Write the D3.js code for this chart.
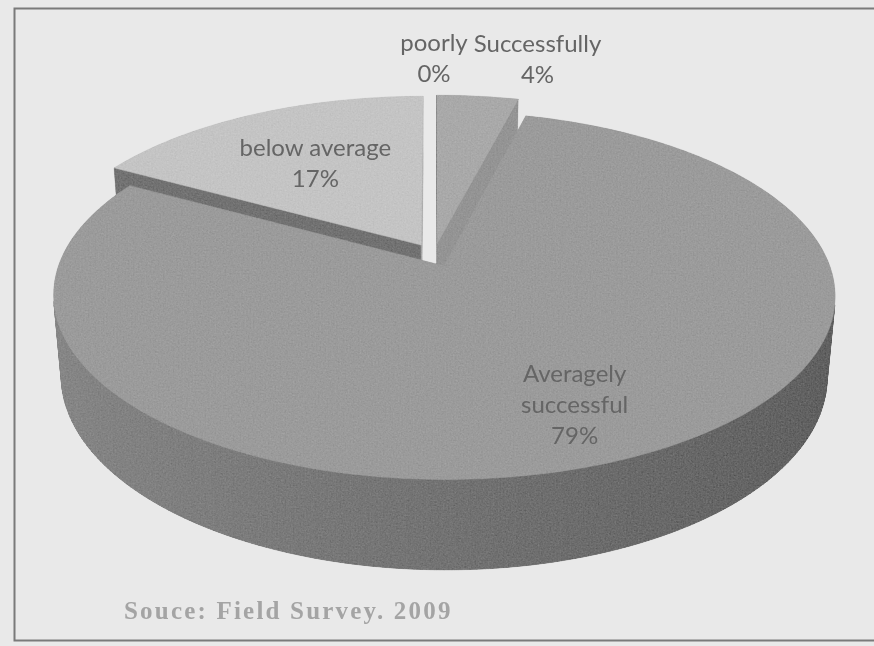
<!DOCTYPE html>
<html>
<head>
<meta charset="utf-8">
<script src="https://cdnjs.cloudflare.com/ajax/libs/d3/7.8.5/d3.min.js"></script>
<style>
  html, body { margin: 0; padding: 0; background: #e9e9e9; }
  svg { display: block; }
</style>
</head>
<body>
<script>
// ---------------- data ----------------
const categories = ["poorly", "Successfully", "Averagely successful", "below average"];
const values = [0, 4, 79, 17];
const sourceNote = "Souce: Field Survey. 2009";

// ---------------- styles ----------------
const topColors = ["#b0b0b0", "#a9a9a9", "#9b9b9b", "#c4c4c4"];
const labelColor = "#656565";
const W = 874, H = 646;

const svg = d3.select("body").append("svg").attr("width", W).attr("height", H);

// scanned-paper grain filter
const defs = svg.append("defs");
const f = defs.append("filter").attr("id", "grain")
  .attr("filterUnits", "userSpaceOnUse").attr("x", 0).attr("y", 0).attr("width", W).attr("height", H);
f.append("feTurbulence").attr("type", "fractalNoise").attr("baseFrequency", 0.6).attr("numOctaves", 2).attr("seed", 3).attr("result", "noise");
f.append("feColorMatrix").attr("in", "noise").attr("type", "matrix")
  .attr("values", "0.33 0.33 0.33 0 0  0.33 0.33 0.33 0 0  0.33 0.33 0.33 0 0  0 0 0 0 1").attr("result", "gray");
f.append("feComposite").attr("in", "SourceGraphic").attr("in2", "gray").attr("operator", "arithmetic")
  .attr("k1", 0).attr("k2", 1).attr("k3", 0.2).attr("k4", -0.1).attr("result", "mix");
f.append("feComposite").attr("in", "mix").attr("in2", "SourceGraphic").attr("operator", "in").attr("result", "clip");
f.append("feGaussianBlur").attr("in", "clip").attr("stdDeviation", 0.7);

const soft = defs.append("filter").attr("id", "soft");
soft.append("feGaussianBlur").attr("stdDeviation", 0.5);

// frame
svg.append("rect").attr("x", 14.5).attr("y", 8.5).attr("width", W).attr("height", 632)
  .attr("fill", "none").attr("stroke", "#7a7a7a").attr("stroke-width", 2).attr("filter", "url(#soft)");

// ---------------- 3D pie geometry ----------------
const view = { cx: 434, cy: 255, scale: 382, sinT: 0.46, dist: 5.55, thick: 0.24, explode: 0.066 };
view.cosT = Math.sqrt(1 - view.sinT * view.sinT);
const F = view.scale * view.dist;
const rScale = d3.scaleLinear().domain([0, 1]).range([0, 1]); // unit pie radius

function project(u, v, h) {
  const down = v * view.sinT + h * view.cosT;
  const depth = view.dist - v * view.cosT + h * view.sinT;
  return [view.cx + F * u / depth, view.cy + F * down / depth];
}
const cam = { v: view.dist * view.cosT };

const pie = d3.pie().sort(null).value(d => d.value).startAngle(0).endAngle(2 * Math.PI);
const data = categories.map((c, i) => ({ name: c, value: values[i], i }));
const arcs = pie(data);
const total = d3.sum(values);
const pct = d3.format(".0%");

arcs.forEach(a => {
  a.mid = (a.startAngle + a.endAngle) / 2;
  a.ou = Math.sin(a.mid) * view.explode;
  a.ov = -Math.cos(a.mid) * view.explode;
});

const line = d3.line();
const pieG = svg.append("g").attr("filter", "url(#grain)");

function shade(hex, k) {
  const c = d3.rgb(hex);
  return d3.rgb(c.r * k, c.g * k, c.b * k).formatHex();
}

const drawOrder = arcs.filter(a => a.value > 0).slice()
  .sort((a, b) => (a.ov - Math.cos(a.mid) * 0.5) - (b.ov - Math.cos(b.mid) * 0.5));

drawOrder.forEach(a => {
  const g = pieG.append("g");
  const R = rScale(1);
  const rim = (t, h) => project(a.ou + R * Math.sin(t), a.ov - R * Math.cos(t), h);
  const apex = h => project(a.ou, a.ov, h);
  const n = Math.max(2, Math.ceil((a.endAngle - a.startAngle) / (Math.PI / 180)));
  const ts = d3.range(n + 1).map(k => a.startAngle + (a.endAngle - a.startAngle) * k / n);
  const base = topColors[a.data.i];

  // radial faces
  const faces = [
    { t: a.startAngle, nu: -Math.cos(a.startAngle), nv: -Math.sin(a.startAngle) },
    { t: a.endAngle, nu: Math.cos(a.endAngle), nv: Math.sin(a.endAngle) }
  ];
  faces.forEach(fc => {
    const vis = fc.nu * (0 - a.ou) + fc.nv * (cam.v - a.ov);
    if (vis <= 0) return;
    const pts = [apex(0), rim(fc.t, 0), rim(fc.t, view.thick), apex(view.thick)];
    const col = shade(base, 0.68 + 0.2 * fc.nu);
    g.append("path").attr("d", line(pts) + "Z").attr("fill", col).attr("stroke", col).attr("stroke-width", 0.6);
  });

  // outer wall
  for (let k = 0; k < n; k++) {
    const t0 = ts[k], t1 = ts[k + 1], tm = (t0 + t1) / 2;
    const pu = a.ou + Math.sin(tm), pv = a.ov - Math.cos(tm);
    const vis = Math.sin(tm) * (0 - pu) + (-Math.cos(tm)) * (cam.v - pv);
    if (vis <= 0) continue;
    const col = shade(base, 0.74 - 0.13 * Math.sin(tm));
    const pts = [rim(t0, 0), rim(t1, 0), rim(t1, view.thick), rim(t0, view.thick)];
    g.append("path").attr("d", line(pts) + "Z").attr("fill", col).attr("stroke", col).attr("stroke-width", 0.8);
  }

  // top face
  const topPts = [apex(0)].concat(ts.map(t => rim(t, 0)));
  g.append("path").attr("d", line(topPts) + "Z").attr("fill", base).attr("stroke", base).attr("stroke-width", 0.5);
});

// ---------------- labels ----------------
const fontSize = 24, lh = 31;
const labelG = svg.append("g").attr("font-family", "Lato, 'Open Sans', sans-serif")
  .attr("font-size", fontSize).attr("fill", labelColor).attr("text-anchor", "middle")
  .attr("filter", "url(#soft)");

const measurer = svg.append("text").attr("font-family", "Lato, 'Open Sans', sans-serif").attr("font-size", fontSize).attr("visibility", "hidden");
function textW(s) { measurer.text(s); return measurer.node().getComputedTextLength(); }
function wrap(s, maxW) {
  const words = s.split(" "); const lines = []; let cur = "";
  words.forEach(w => {
    const t = cur ? cur + " " + w : w;
    if (cur && textW(t) > maxW) { lines.push(cur); cur = w; } else cur = t;
  });
  lines.push(cur); return lines;
}

const labels = arcs.map(a => {
  const share = a.value / total;
  const inside = share >= 0.1;
  const r = inside ? (share > 0.5 ? 0.75 : 0.6) : 1.3;
  const p = project(a.ou + r * Math.sin(a.mid), a.ov - r * Math.cos(a.mid), 0);
  const lines = wrap(a.data.name, 175).concat([pct(share)]);
  const w = d3.max(lines, textW);
  return { x: p[0], y: p[1], lines, w, inside };
});

// outside labels: resolve horizontal overlaps
const outs = labels.filter(l => !l.inside).sort((a, b) => a.x - b.x);
for (let k = 1; k < outs.length; k++) {
  const prev = outs[k - 1], cur = outs[k];
  const minX = prev.x + prev.w / 2 + 6 + cur.w / 2;
  if (cur.x < minX) cur.x = minX;
}

labels.forEach(l => {
  const t = labelG.append("text");
  l.lines.forEach((s, k) => {
    t.append("tspan").attr("x", l.x)
      .attr("y", l.y + (k - (l.lines.length - 1) / 2) * lh + fontSize * 0.35)
      .text(s);
  });
});
measurer.remove();

// source note
svg.append("text").attr("x", 124).attr("y", 619)
  .attr("font-family", "'Liberation Serif', 'Times New Roman', serif")
  .attr("font-size", 25).attr("font-weight", "bold").attr("letter-spacing", 2.2).attr("fill", "#a4a4a4")
  .attr("filter", "url(#soft)")
  .text(sourceNote);
</script>
</body>
</html>
